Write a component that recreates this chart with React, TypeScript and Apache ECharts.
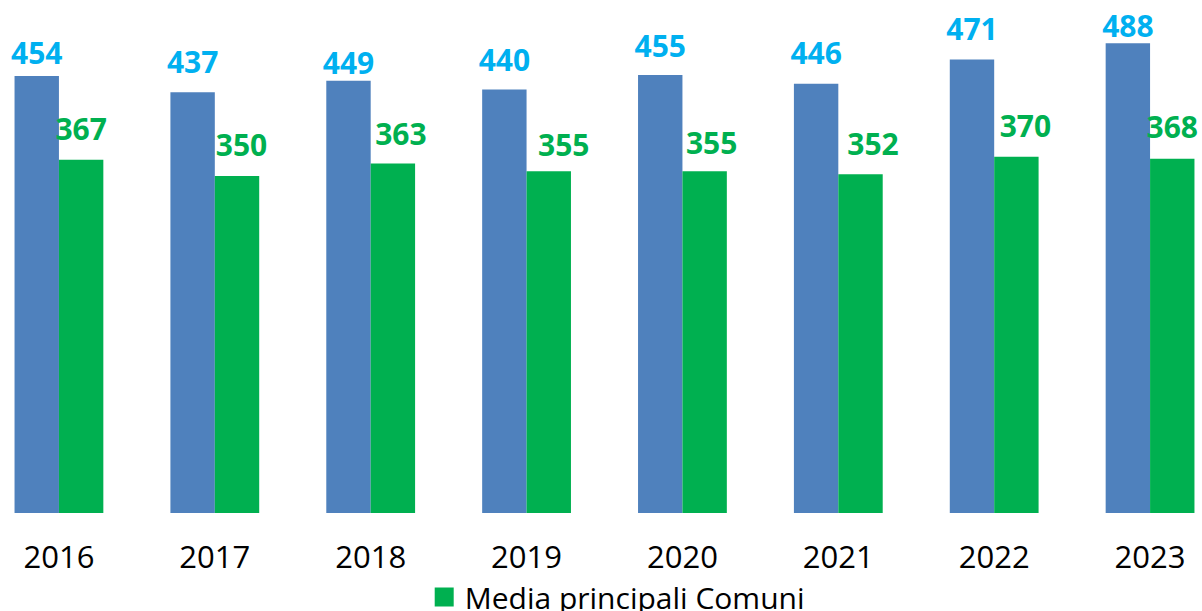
import React, { useEffect, useRef } from "react";
import * as echarts from "echarts";

const years = ["2016", "2017", "2018", "2019", "2020", "2021", "2022", "2023"];
const comuneValues = [454, 437, 449, 440, 455, 446, 471, 488];
const mediaValues = [367, 350, 363, 355, 355, 352, 370, 368];
const comuneName = "Comune";
const mediaName = "Media principali Comuni";

// label placement tweaks (as in the reference, where labels were placed by hand)
const comuneLabelDistance = [8, 16, 3, 15, 15, 16, 16, 3];
const mediaLabelDistance = [16, 16.5, 15, 12, 14, 16, 16.5, 17];
const mediaLabelShiftX = [0, 4.5, 8, 15, 7, 12.5, 9, 0];

const SHIFT = 18.7;
const WIDTH = 1247.4;

export default function App() {
  const ref = useRef<HTMLDivElement>(null);
  useEffect(() => {
    document.body.style.margin = "0";
    document.body.style.overflow = "hidden";
    const chart = echarts.init(ref.current!, null, { renderer: "svg" });
    const font = "'Open Sans', 'Noto Sans', sans-serif";
    const labelBase = {
      show: true,
      position: "top",
      fontFamily: font,
      fontWeight: "bold",
      fontSize: 30,
    };
    chart.setOption({
      animation: false,
      backgroundColor: "#ffffff",
      grid: { left: 0, right: 0, top: 31.7, bottom: 98, containLabel: false },
      legend: {
        data: [mediaName],
        left: 435 + SHIFT - 5,
        top: 577,
        itemWidth: 19,
        itemHeight: 19,
        icon: "rect",
        textStyle: { fontFamily: font, fontSize: 30, color: "#000", padding: [0, 0, 0, 6] },
      },
      xAxis: {
        type: "category",
        data: years,
        axisLine: { show: false },
        axisTick: { show: false },
        axisLabel: { fontFamily: font, fontSize: 31, color: "#000", margin: 27 },
      },
      yAxis: {
        type: "value",
        min: 0,
        max: 500,
        show: false,
        splitLine: { show: false },
      },
      series: [
        {
          name: comuneName,
          type: "bar",
          data: comuneValues.map((v, i) => ({
            value: v,
            label: { distance: comuneLabelDistance[i] },
          })),
          barWidth: 44.4,
          barGap: "0%",
          itemStyle: { color: "#4F81BD" },
          label: { ...labelBase, color: "#00B0F0" },
        },
        {
          name: mediaName,
          type: "bar",
          data: mediaValues.map((v, i) => ({
            value: v,
            label: { distance: mediaLabelDistance[i], offset: [mediaLabelShiftX[i], 0] },
          })),
          barWidth: 44.4,
          barGap: "0%",
          itemStyle: { color: "#00B050" },
          label: { ...labelBase, color: "#00B050" },
        },
      ],
    });
    return () => chart.dispose();
  }, []);
  return (
    <div
      ref={ref}
      style={{ position: "absolute", left: -SHIFT, top: 0, width: WIDTH, height: 611 }}
    />
  );
}
